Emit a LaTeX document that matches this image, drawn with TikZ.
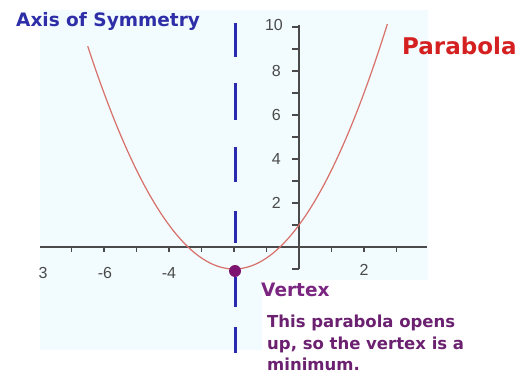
\documentclass[tikz,border=0pt]{standalone}
\usepackage{fontspec}
\setmainfont{DejaVu Sans}
\newfontfamily\numfont{Liberation Sans}
\definecolor{bgblue}{HTML}{F2FBFD}
\definecolor{symblue}{HTML}{2A2AAE}
\definecolor{curvered}{HTML}{D8706A}
\definecolor{axisgray}{HTML}{4A4A4A}
\definecolor{dotpurple}{HTML}{7D1570}
\definecolor{vpurple}{HTML}{7A2580}
\definecolor{tpurple}{HTML}{6B2170}
\definecolor{parred}{HTML}{D42020}
\definecolor{titleblue}{HTML}{2E2EA8}
\tikzset{
  axisline/.style={draw=axisgray, line width=1.5pt},
  tickline/.style={draw=axisgray, line width=1.3pt},
  numlabel/.style={font=\numfont\fontsize{16}{18}\selectfont, text=axisgray, inner sep=0pt},
  symdash/.style={draw=symblue, line width=3pt},
  curve/.style={draw=curvered, line width=1.2pt},
  ptext/.style={font=\bfseries\fontsize{16.5}{20}\selectfont, text=tpurple, inner sep=0pt, anchor=base west},
}
\begin{document}
\begin{tikzpicture}[x=1pt,y=-1pt]
\useasboundingbox (0,0) rectangle (525,390);
% background
\fill[bgblue] (40,10) -- (428,10) -- (428,280) -- (262,280) -- (262,350) -- (40,350) -- cycle;
% axes in graph coordinates
\begin{scope}[shift={(299,247)}, x=32.5pt, y=22pt]
  \coordinate (xl) at (-7.97,0);
  \coordinate (xr) at (3.94,0);
  \coordinate (yt) at (0,10.1);
  \coordinate (yb) at (0,-1);
  \draw[axisline] (xl) -- (xr);
  \draw[axisline] (yt) -- (yb);
  \foreach \i in {-7,...,-1,1,2,3}
    \draw[tickline] (\i,0) -- ++(0,-5pt);
  \foreach \j in {-1,1,2,...,10}
    \draw[tickline] (0,\j) -- ++(-7pt,0);
  \draw[curve] plot[domain=-6.5:2.72, samples=90, smooth] (\x, {0.5*(\x+2)^2-1});
\end{scope}
% number labels
\node[numlabel] (lx8) at (43,273) {3};
\node[numlabel] (lx6) at (105,273) {-6};
\node[numlabel] (lx4) at (169,273) {-4};
\node[numlabel] (lx2) at (364,270) {2};
\node[numlabel, anchor=east] (ly10) at (283,25) {10};
\node[numlabel, anchor=east] (ly8) at (281,71) {8};
\node[numlabel, anchor=east] (ly6) at (281,115) {6};
\node[numlabel, anchor=east] (ly4) at (281,159) {4};
\node[numlabel, anchor=east] (ly2) at (281,203) {2};
% axis of symmetry
\foreach \a/\b in {23/57, 83/120, 147/182, 211/243, 277/307, 327/353}
  \draw[symdash] (235,\a) -- (235,\b);
% vertex
\node[circle, fill=dotpurple, inner sep=0pt, minimum size=12pt] (vertexdot) at (235,271) {};
% texts
\node[font=\bfseries\fontsize{18.5}{22}\selectfont, text=titleblue, inner sep=0pt, anchor=base west] (title) at (16,27) {Axis of Symmetry};
\node[font=\bfseries\fontsize{23}{26}\selectfont, text=parred, inner sep=0pt, anchor=base west] (partitle) at (402,55) {Parabola};
\node[font=\bfseries\fontsize{18.5}{22}\selectfont, text=vpurple, inner sep=0pt, anchor=base west] (vertexlabel) at (261,297) {Vertex};
\node[ptext] (line1) at (267,327) {This parabola opens};
\node[ptext] (line2) at (267,349) {up, so the vertex is a};
\node[ptext] (line3) at (267,370) {minimum.};
\end{tikzpicture}
\end{document}
